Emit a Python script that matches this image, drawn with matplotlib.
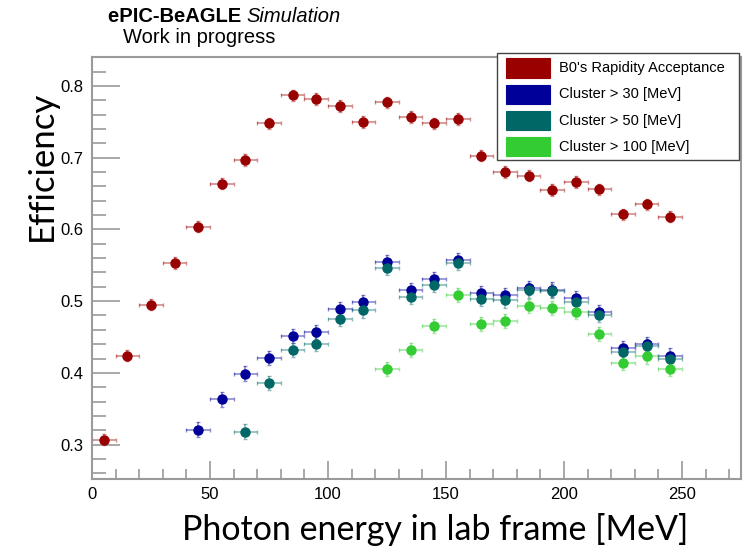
"""Photon efficiency vs. energy, ePIC-BeAGLE simulation."""

import matplotlib
matplotlib.use('Agg')
import matplotlib.pyplot as plt
from matplotlib import patches
from matplotlib.ticker import MultipleLocator, FormatStrFormatter

# bin centres [MeV], bins are 10 MeV wide
energy = [5, 15, 25, 35, 45, 55, 65, 75, 85, 95, 105, 115, 125,
          135, 145, 155, 165, 175, 185, 195, 205, 215, 225, 235, 245]

eff_b0 = [0.307, 0.424, 0.495, 0.553, 0.604, 0.664, 0.697, 0.748, 0.787,
          0.782, 0.772, 0.750, 0.777, 0.757, 0.748, 0.754, 0.703, 0.680,
          0.675, 0.655, 0.666, 0.656, 0.621, 0.635, 0.618]

energy_30 = energy[4:]
eff_30 = [0.321, 0.363, 0.399, 0.421, 0.451, 0.457, 0.489, 0.499, 0.554,
          0.515, 0.531, 0.557, 0.511, 0.508, 0.518, 0.516, 0.504, 0.485,
          0.434, 0.440, 0.424]

energy_50 = energy[6:]
eff_50 = [0.318, 0.386, 0.432, 0.440, 0.475, 0.487, 0.546, 0.506, 0.523,
          0.553, 0.503, 0.501, 0.515, 0.514, 0.499, 0.481, 0.429, 0.437,
          0.419]

energy_100 = energy[12:]
eff_100 = [0.405, 0.432, 0.465, 0.509, 0.468, 0.472, 0.493, 0.490, 0.485,
           0.454, 0.414, 0.423, 0.405]

series = [
    (energy, eff_b0, 0.008, '#990000', "B0's Rapidity Acceptance"),
    (energy_30, eff_30, 0.010, '#000099', 'Cluster > 30 [MeV]'),
    (energy_50, eff_50, 0.010, '#006666', 'Cluster > 50 [MeV]'),
    (energy_100, eff_100, 0.010, '#33cc33', 'Cluster > 100 [MeV]'),
]

W, H = 751, 554
AXIS_GRAY = '#9a9a9a'
HELV = ['Liberation Sans', 'DejaVu Sans']
BIG = ['Lato', 'DejaVu Sans']


def fx(px):
    """Pixel column to figure fraction."""
    return px / W


def fy(py):
    """Pixel row (from top) to figure fraction."""
    return 1 - py / H


fig = plt.figure(figsize=(W / 100, H / 100), dpi=100)
left, right, top, bottom = 92, 741, 57, 479
ax = fig.add_axes([fx(left), fy(bottom), (right - left) / W,
                   (bottom - top) / H])

for xs, ys, err, color, _ in series:
    ax.errorbar(xs, ys, xerr=5, yerr=err, fmt='none', ecolor=color,
                alpha=0.45, elinewidth=1.2, capsize=1.5, capthick=1)
    ax.plot(xs, ys, 'o', color=color, ms=6.5, mec=color, zorder=3)

ax.set_xlim(0, 275)
ax.set_ylim(0.252, 0.8404)
ax.xaxis.set_major_locator(MultipleLocator(50))
ax.xaxis.set_minor_locator(MultipleLocator(10))
ax.yaxis.set_major_locator(MultipleLocator(0.1))
ax.yaxis.set_minor_locator(MultipleLocator(0.02))
ax.yaxis.set_major_formatter(FormatStrFormatter('%.1f'))

for side in ax.spines.values():
    side.set_color(AXIS_GRAY)
    side.set_linewidth(1.5)
ax.tick_params(axis='both', which='both', direction='in', color=AXIS_GRAY,
               width=1.2, top=False, right=False)
ax.tick_params(axis='x', which='major', length=13, pad=6)
ax.tick_params(axis='x', which='minor', length=7)
ax.tick_params(axis='y', which='major', length=20, pad=6)
ax.tick_params(axis='y', which='minor', length=10)
for lab in ax.get_xticklabels() + ax.get_yticklabels():
    lab.set_family(HELV)
    lab.set_fontsize(12)

# axis titles
fig.text(fx(435), fy(530), 'Photon energy in lab frame [MeV]', family=BIG,
         fontsize=24.5, ha='center', va='center')
fig.text(fx(42), fy(166), 'Efficiency', family=BIG, fontsize=25,
         rotation=90, ha='center', va='center')

# header
t1 = fig.text(fx(108), fy(22), 'ePIC-BeAGLE ', family=HELV, fontsize=14.5,
              fontweight='bold', va='baseline')
fig.canvas.draw()
bb = t1.get_window_extent()
fig.text(bb.x1 / W, fy(22), 'Simulation', family=HELV, fontsize=14.5,
         style='italic', va='baseline')
fig.text(fx(123), fy(43), 'Work in progress', family=HELV, fontsize=14.5,
         va='baseline')

# legend box drawn by hand, ROOT style
fig.patches.append(patches.Rectangle(
    (fx(497), fy(160)), (739 - 497) / W, (160 - 53) / H,
    transform=fig.transFigure, facecolor='white', edgecolor='#444444',
    linewidth=1, zorder=5))
for idx, (_, _, _, color, label) in enumerate(series):
    yc = 68 + idx * 26.3
    fig.patches.append(patches.Rectangle(
        (fx(506), fy(yc + 9.5)), 44 / W, 19 / H, transform=fig.transFigure,
        facecolor=color, edgecolor=color, linewidth=0.8, zorder=6))
    fig.text(fx(559), fy(yc), label, family=HELV, fontsize=10.5,
             va='center', zorder=7)

fig.savefig('out.png', dpi=100)
